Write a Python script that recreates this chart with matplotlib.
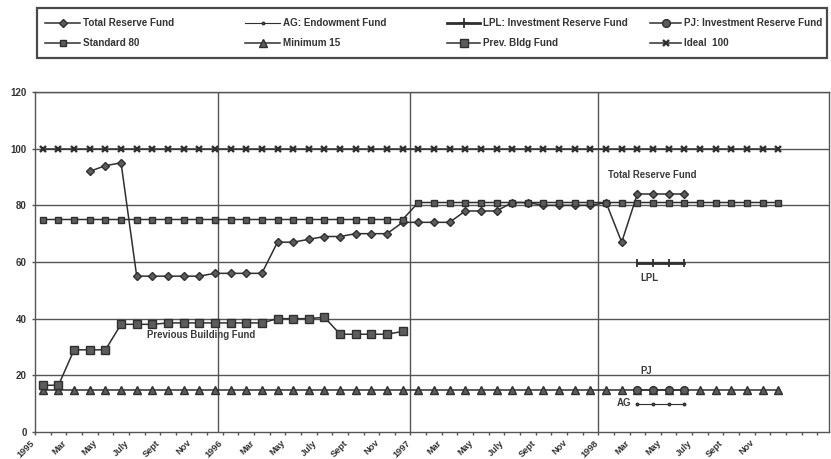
import numpy as np
import matplotlib
matplotlib.use("Agg")
import matplotlib.pyplot as plt
import matplotlib.transforms as mtransforms
from matplotlib.lines import Line2D
from matplotlib.patches import Rectangle

nan = np.nan

# Month axis: Jan 1995 .. Dec 1998 (one category per month), labels every other month
tick_labels = ["1995", "Mar", "May", "July", "Sept", "Nov",
               "1996", "Mar", "May", "July", "Sept", "Nov",
               "1997", "Mar", "May", "July", "Sept", "Nov",
               "1998", "Mar", "May", "July", "Sept", "Nov"]

total_reserve = [nan, nan, nan, 92, 94, 95, 55, 55, 55, 55, 55, 56,
                 56, 56, 56, 67, 67, 68, 69, 69, 70, 70, 70, 74,
                 74, 74, 74, 78, 78, 78, 81, 81, 80, 80, 80, 80,
                 81, 67, 84, 84, 84, 84, nan, nan, nan, nan, nan, nan]
ag_endowment = [nan, nan, nan, nan, nan, nan, nan, nan, nan, nan, nan, nan,
                nan, nan, nan, nan, nan, nan, nan, nan, nan, nan, nan, nan,
                nan, nan, nan, nan, nan, nan, nan, nan, nan, nan, nan, nan,
                nan, nan, 10, 10, 10, 10, nan, nan, nan, nan, nan, nan]
lpl_investment = [nan, nan, nan, nan, nan, nan, nan, nan, nan, nan, nan, nan,
                  nan, nan, nan, nan, nan, nan, nan, nan, nan, nan, nan, nan,
                  nan, nan, nan, nan, nan, nan, nan, nan, nan, nan, nan, nan,
                  nan, nan, 59.5, 59.5, 59.5, 59.5, nan, nan, nan, nan, nan, nan]
pj_investment = [nan, nan, nan, nan, nan, nan, nan, nan, nan, nan, nan, nan,
                 nan, nan, nan, nan, nan, nan, nan, nan, nan, nan, nan, nan,
                 nan, nan, nan, nan, nan, nan, nan, nan, nan, nan, nan, nan,
                 nan, nan, 15, 15, 15, 15, nan, nan, nan, nan, nan, nan]
standard_80 = [75, 75, 75, 75, 75, 75, 75, 75, 75, 75, 75, 75,
               75, 75, 75, 75, 75, 75, 75, 75, 75, 75, 75, 75,
               81, 81, 81, 81, 81, 81, 81, 81, 81, 81, 81, 81,
               81, 81, 81, 81, 81, 81, 81, 81, 81, 81, 81, 81]
minimum_15 = [15, 15, 15, 15, 15, 15, 15, 15, 15, 15, 15, 15,
              15, 15, 15, 15, 15, 15, 15, 15, 15, 15, 15, 15,
              15, 15, 15, 15, 15, 15, 15, 15, 15, 15, 15, 15,
              15, 15, 15, 15, 15, 15, 15, 15, 15, 15, 15, 15]
prev_bldg = [16.5, 16.5, 29, 29, 29, 38, 38, 38, 38.5, 38.5, 38.5, 38.5,
             38.5, 38.5, 38.5, 40, 40, 40, 40.5, 34.5, 34.5, 34.5, 34.5, 35.5,
             nan, nan, nan, nan, nan, nan, nan, nan, nan, nan, nan, nan,
             nan, nan, nan, nan, nan, nan, nan, nan, nan, nan, nan, nan]
ideal_100 = [100, 100, 100, 100, 100, 100, 100, 100, 100, 100, 100, 100,
             100, 100, 100, 100, 100, 100, 100, 100, 100, 100, 100, 100,
             100, 100, 100, 100, 100, 100, 100, 100, 100, 100, 100, 100,
             100, 100, 100, 100, 100, 100, 100, 100, 100, 100, 100, 100]

months = np.arange(len(ideal_100))

plt.rcParams["font.family"] = ["Liberation Sans", "DejaVu Sans"]
legend_size = 7.1

INK = "#2f2f2f"
FILL = "#5c5c5c"
GRID = "#555555"

fig = plt.figure(figsize=(8.31, 4.59), dpi=100)
ax = fig.add_axes([35 / 831, 1 - 432 / 459, 794 / 831, 340 / 459])

styles = {
    "Total Reserve Fund": dict(marker="D", ms=4.4, lw=1.1),
    "AG: Endowment Fund": dict(marker="o", ms=1.8, lw=0.8),
    "LPL: Investment Reserve Fund": dict(marker="|", ms=6, mew=1.3, lw=2.0),
    "PJ: Investment Reserve Fund": dict(marker="o", ms=5.6, lw=1.1),
    "Standard 80": dict(marker="s", ms=4.8, lw=1.1),
    "Minimum 15": dict(marker="^", ms=5.3, lw=1.1),
    "Prev. Bldg Fund": dict(marker="s", ms=5.8, lw=1.1),
    "Ideal  100": dict(marker="x", ms=4.6, mew=1.7, lw=1.1),
}
series = [
    ("Total Reserve Fund", total_reserve, 3),
    ("AG: Endowment Fund", ag_endowment, 3),
    ("LPL: Investment Reserve Fund", lpl_investment, 3),
    ("Standard 80", standard_80, 4),
    ("Minimum 15", minimum_15, 3),
    ("PJ: Investment Reserve Fund", pj_investment, 5),
    ("Prev. Bldg Fund", prev_bldg, 4),
    ("Ideal  100", ideal_100, 4),
]
for name, values, z in series:
    st = dict(styles[name])
    ax.plot(months, values, color=INK, mfc=FILL, mec=INK, zorder=z, **st)

# axes frame and grid
ax.set_xlim(-0.5, 50.25)
ax.set_ylim(0, 120)
ax.set_yticks(np.arange(0, 121, 20))
for v in range(20, 121, 20):
    ax.axhline(v, color=GRID, lw=1.0, zorder=1)
for xv in (11.2, 23.45, 35.5):
    ax.axvline(xv, color=GRID, lw=1.0, zorder=1)
for sp in ax.spines.values():
    sp.set_color(GRID)
    sp.set_linewidth(1.0)

ax.set_xticks(np.arange(0, 48, 2))
ax.set_xticklabels(tick_labels, rotation=45, ha="right", va="top",
                   fontsize=6.6, fontweight="bold", color="#333333")
ax.set_xticks(np.arange(-0.5, 50, 1), minor=True)
ax.tick_params(axis="x", which="major", length=0, pad=4.5)
ax.tick_params(axis="x", which="minor", length=2.5, width=1.0, color=GRID)
ax.tick_params(axis="y", length=2.5, width=1.0, color=GRID, pad=3.5,
               labelsize=7)
for lab in ax.get_yticklabels():
    lab.set_fontweight("bold")
    lab.set_color("#333333")
shift = mtransforms.ScaledTranslation(-0.06, 0, fig.dpi_scale_trans)
for lab in ax.get_xticklabels():
    lab.set_transform(lab.get_transform() + shift)

# in-plot annotations
ann = dict(fontsize=6.9, fontweight="bold", color="#3a3a3a", va="center")
ax.text(36.12, 90.7, "Total Reserve Fund", ha="left", **ann)
ax.text(38.17, 54.4, "LPL", ha="left", **ann)
ax.text(38.17, 21.5, "PJ", ha="left", **ann)
ax.text(37.6, 10.2, "AG", ha="right", **ann)
ax.text(6.66, 34.2, "Previous Building Fund", ha="left", **ann)

# legend box, laid out in two rows of four
W, H = 831, 459
fig.add_artist(Rectangle((37 / W, 1 - 58 / H), 790 / W, 50 / H,
                         transform=fig.transFigure, fill=False,
                         edgecolor="#4a4a4a", lw=1.6))
legend_rows = [
    ["Total Reserve Fund", "AG: Endowment Fund",
     "LPL: Investment Reserve Fund", "PJ: Investment Reserve Fund"],
    ["Standard 80", "Minimum 15", "Prev. Bldg Fund", "Ideal  100"],
]
col_x = [(45, 80), (245, 280), (447, 480), (650, 681)]
row_y = [22.5, 42.5]
for r, names in enumerate(legend_rows):
    yy = 1 - row_y[r] / H
    for c, name in enumerate(names):
        x0, x1 = col_x[c]
        st = dict(styles[name])
        mk = st.pop("marker")
        ms = st.pop("ms")
        mew = st.pop("mew", 1.0)
        lw = st.pop("lw")
        if mk == "|":
            mk, ms = "+", 7
        fig.add_artist(Line2D([x0 / W, x1 / W], [yy, yy], transform=fig.transFigure,
                              color=INK, lw=lw))
        fig.add_artist(Line2D([(x0 + x1) / 2 / W], [yy], transform=fig.transFigure,
                              marker=mk, ms=ms, mew=mew, mfc=FILL, mec=INK, lw=0))
        fig.text((x1 + 3) / W, yy, name, ha="left", va="center",
                 fontsize=legend_size, fontweight="bold", color="#333333")

fig.savefig("out.png", dpi=100, facecolor="white")
